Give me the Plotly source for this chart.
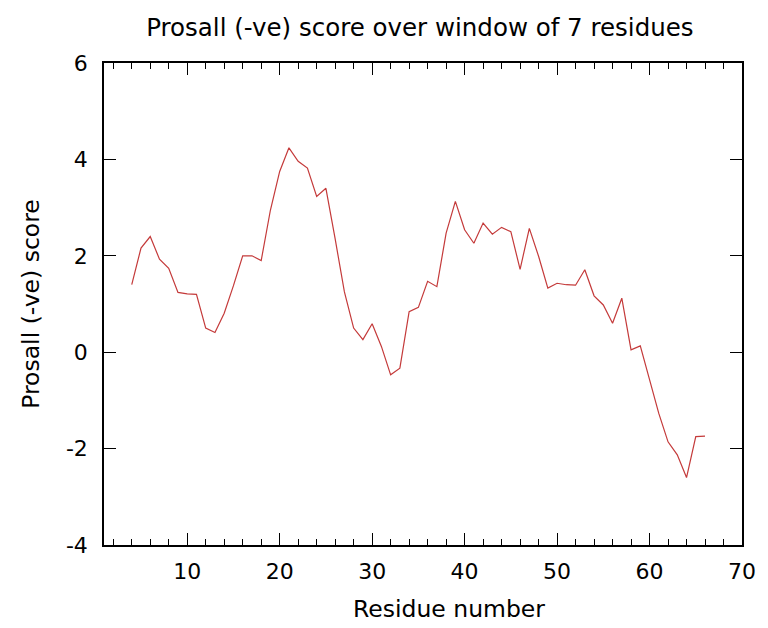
import plotly.graph_objects as go

residues = list(range(4, 67))
scores = [1.40, 2.16, 2.40, 1.93, 1.74, 1.24, 1.21, 1.20, 0.50, 0.41,
          0.81, 1.38, 2.00, 2.00, 1.90, 2.95, 3.75, 4.24, 3.96, 3.82,
          3.23, 3.40, 2.35, 1.25, 0.50, 0.26, 0.59, 0.12, -0.47, -0.33,
          0.84, 0.93, 1.47, 1.36, 2.47, 3.13, 2.54, 2.26, 2.68, 2.45,
          2.59, 2.50, 1.72, 2.57, 1.99, 1.33, 1.43, 1.40, 1.39, 1.71,
          1.17, 0.98, 0.60, 1.12, 0.05, 0.13, -0.57, -1.27, -1.86, -2.13,
          -2.60, -1.75, -1.74]

x_ticks = [10, 20, 30, 40, 50, 60, 70]
y_ticks = [-4, -2, 0, 2, 4, 6]
y_tick_text = ["-4", "-2", "0", "2", "4", "6"]

font_family = "DejaVu Sans, sans-serif"

fig = go.Figure()
fig.add_trace(go.Scatter(
    x=residues, y=scores, mode="lines",
    line=dict(color="#c43a3a", width=1.2),
    showlegend=False,
))

fig.update_layout(
    width=760, height=620,
    margin=dict(l=96, r=22, t=55, b=83),
    paper_bgcolor="white", plot_bgcolor="white",
    font=dict(family=font_family, color="black", size=22),
    title=dict(text="Prosall (-ve) score over window of 7 residues",
               x=0.542, xanchor="center", y=0.968, yanchor="middle",
               font=dict(size=24.5, family=font_family)),
    annotations=[dict(text="Residue number", xref="paper", yref="paper",
                      x=0.54, y=0, yshift=-64, xanchor="center", yanchor="middle",
                      showarrow=False, font=dict(size=23.5))],
)

fig.update_xaxes(
    range=[1, 70], tickvals=x_ticks, showgrid=False, zeroline=False,
    showline=True, linecolor="black", linewidth=1.5, mirror="allticks",
    ticks="inside", ticklen=12, tickwidth=1.2, tickcolor="black",
    minor=dict(dtick=2, tick0=0, ticks="inside", ticklen=6, tickwidth=1, tickcolor="black"),
    tickfont=dict(size=22), ticklabelstandoff=6,
)
fig.update_yaxes(
    range=[-4, 6], tickvals=y_ticks, ticktext=y_tick_text, showgrid=False,
    zeroline=False, showline=True, linecolor="black", linewidth=1.5,
    mirror="allticks", ticks="inside", ticklen=12, tickwidth=1.2, tickcolor="black",
    tickfont=dict(size=22), ticklabelstandoff=10,
    title=dict(text="Prosall (-ve) score", font=dict(size=23.5), standoff=20),
)

fig.write_html("out.html")
